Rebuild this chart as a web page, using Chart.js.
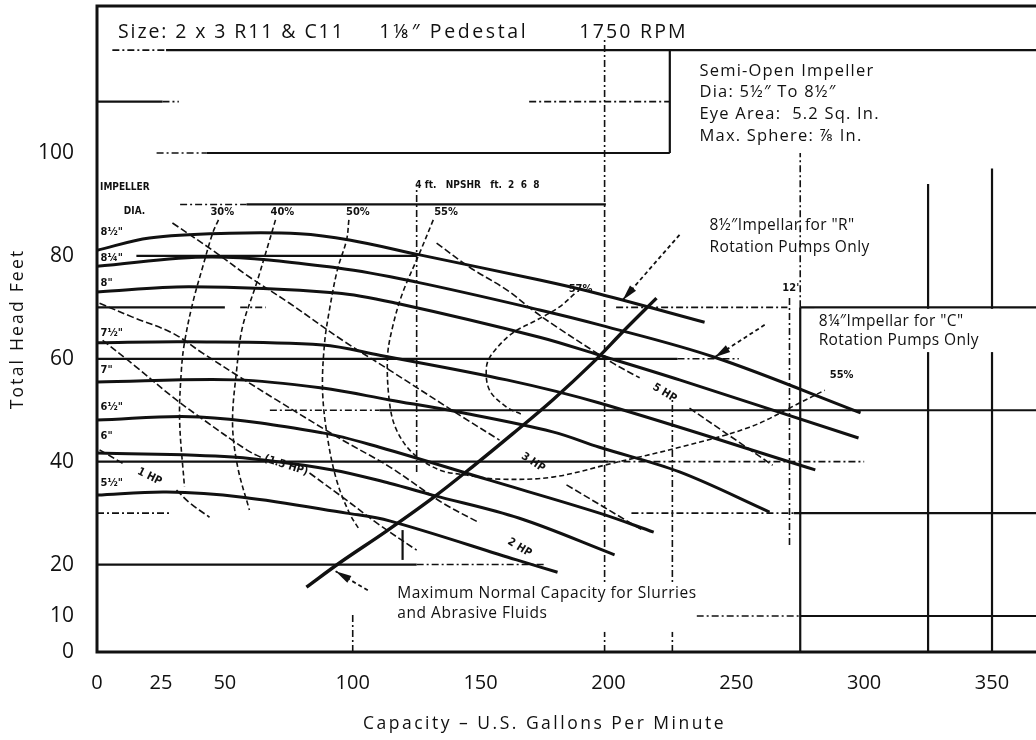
<!DOCTYPE html>
<html>
<head>
<meta charset="utf-8">
<script src="https://cdn.jsdelivr.net/npm/chart.js@4"></script>
<style>
  html, body { margin: 0; padding: 0; background: #fff; }
  #wrap { width: 1036px; height: 740px; }
</style>
</head>
<body>
<div id="wrap"><canvas id="pump" width="1036" height="740"></canvas></div>
<script>
// values: [US GPM, feet of head]
const xTickValues = [0, 25, 50, 100, 150, 200, 250, 300, 350];
const yTickValues = [3, 10, 20, 40, 60, 80, 100];
const yTickLabels = ['0', '10', '20', '40', '60', '80', '100'];

// impeller diameter curves
const diaNames = ['8½"', '8¼"', '8"', '7½"', '7"', '6½"', '6"', '5½"'];
const diaTagHead = [84.6, 79.6, 74.7, 65, 57.8, 50.6, 45, 35.8];
const head8_50 = [[0,81.1],[20.5,83.5],[51.8,84.4],[79.2,84.3],[98.7,83.1],[126.2,80.2],[173.1,75.3],[196.5,72.6],[237.6,67.1]];
const head8_25 = [[0,78],[45.2,79.8],[94.8,77.6],[125,74.9],[173.1,69.5],[196.5,66.6],[241.5,60.3],[298.6,49.5]];
const head8_00 = [[0,73],[36.2,74],[93.7,72.8],[117.1,70.8],[173.1,64.2],[196.5,60.7],[227.8,55.9],[297.8,44.6]];
const head7_50 = [[0,63.1],[35,63.3],[88.2,62.7],[110.5,60.7],[160.2,55.9],[196.5,51.4],[280.9,38.4]];
const head7_00 = [[0,55.5],[54.6,55.9],[88.2,54.3],[114.4,52],[141.8,49.6],[178.2,45.8],[196.5,42.8],[227.8,38],[263,30.2]];
const head6_50 = [[0,48.1],[40.1,48.7],[88.2,45.6],[110.5,42.8],[153.5,36.4],[196.5,30],[217.7,26.3]];
const head6_00 = [[0,41.7],[53,40.9],[92.1,38.4],[114.4,35.8],[131.2,33.5],[165.2,29],[202.4,21.9]];
const head5_50 = [[0,33.5],[27.2,34.1],[56.9,33.1],[97.6,30],[114.4,28.5],[164.1,20.9],[180.1,18.5]];

// efficiency contours
const effNames = ['30%', '40%', '50%', '55%', '57%', '55%'];
const effTagAt = [[49,88.6],[72.5,88.6],[102,88.6],[136.5,88.6],[189.1,73.6],[291.2,56.8]];
const eff30 = [[47.5,87],[45.2,84.4],[41.3,77.8],[37.4,70.8],[34.2,63.1],[33,57.8],[32.3,48.1],[34.2,35.1]];
const eff40 = [[69.8,87],[67.5,83.1],[62.4,74.7],[56.9,66.2],[54.6,57.8],[53,47.5],[55,39],[59.6,30.6]];
const eff50 = [[98.5,87],[97.6,83.1],[94,77.3],[90.9,69.5],[89,63.1],[88.2,53.9],[90.1,44.8],[93.7,36.4],[98.7,30],[102.7,26.7]];
const eff55 = [[131.5,87],[126.2,80.6],[119.5,72.8],[115.6,66.2],[113.6,60.3],[114.4,51.4],[117.1,46.2],[123.4,41.7],[133.9,38.4],[144.5,37.4],[157.4,36.6],[178.2,37],[201.6,39.7],[227.8,42.8],[255.2,46.7],[274.7,51.4],[284.6,53.9]];
const eff57 = [[186.7,72.6],[180.9,70.1],[171.9,67.5],[162.5,65],[154.7,61.1],[152.3,58.4],[153.5,53.9],[160.2,50.6],[166,49.2]];

// brake horsepower lines (null = gap where the tag sits)
const hpNames = ['1 HP', '(1.5 HP)', '2 HP', '3 HP', '5 HP'];
const hp1_0 = [[1,42.3],[10,39.7],null,[31.1,34.5],[36.2,32],[44,29.2]];
const hp1_5 = [[2.2,63.6],[15.4,58.4],[29.5,52.6],[40.1,48.7],[58.5,42.3],[64.7,40.7],null,[83.1,37.8],[96,33.1],[110.5,27.7],[125,22.8]];
const hp2_0 = [[1,70.8],[13.9,68.1],[29.5,65],[41.3,61.1],[55.7,56.5],[70.2,52],[96,44.2],[114.4,39],[135.1,32],[149.6,28.1],null,[180.9,18.5]];
const hp3_0 = [[29.5,86.4],[45.2,81.1],[59.6,75.9],[75.3,70.8],[96,63.6],[114.4,57.8],[142.9,48.7],[157.4,44.2],null,[183.6,35.5],[213.3,26.7]];
const hp5_0 = [[132.8,82.5],[145.7,77.8],[160.2,73.4],[170.3,69.5],[179.7,66.2],[201.6,59.2],[212.2,56.3],null,[231.7,50.4],[264.2,39.3]];

// maximum normal capacity for slurries
const maxCapacity = [[81.9,15.6],[94.8,20.3],[113.2,26.5],[131.2,32.9],[146.8,39],[162.5,45.4],[178.2,52],[193.8,59.2],[206.3,65.6],[218.8,71.8]];

// pointer arrows [from, tip]
const arrowR = [[227.8,84.1],[205.5,71.4]];
const arrowC = [[261.1,66.6],[241.5,60.3]];
const arrowMax = [[105.9,15],[93.3,18.7]];

// sheet grid lines: [level, from, to]
const headGridSolid = [[120,27,367.2],[110,0,25.6],[100,42.8,224],[90,58.5,199],[80,15.4,125],[70,0,50],[70,275,367.2],[60,0,227],[50,110.5,367.2],[40,0,200],[30,272.5,367.2],[20,0,125],[10,275,367.2]];
const headGridDashed = [[120,6,27],[110,25.6,32],[110,169,224],[100,23.3,42.8],[90,32.5,58.5],[70,56,66],[70,203,270],[60,227,251],[50,67.6,110.5],[40,200,300],[30,0,28.4],[30,209,272.5],[20,125,175],[10,234.5,275]];
const flowGridSolid = [[275,3,70],[325,3,94],[350,3,97],[224,100,120],[119.5,20.9,26.7]];
const flowGridDashed = [[125,38,93.5],[198.5,3,122],[270.8,23.8,72.4],[275,70,100],[225,3,52],[100,3,10.8]];

const FONT = '"Open Sans", "DejaVu Sans", sans-serif';
const SCAN = '"DejaVu Sans Condensed", "DejaVu Sans", sans-serif';
const INK = '#111';

const toPts = a => a.map((p, i) => p ? { x: p[0], y: p[1] } : { x: a[i - 1][0] + 0.01, y: null });
const line = (pts, w, dash) => ({
  data: toPts(pts), borderColor: INK, borderWidth: w, borderDash: dash,
  pointRadius: 0, tension: 0.35, fill: false, spanGaps: false
});

const heads = [head8_50, head8_25, head8_00, head7_50, head7_00, head6_50, head6_00, head5_50];
const effs = [eff30, eff40, eff50, eff55, eff57];
const hps = [hp1_0, hp1_5, hp2_0, hp3_0, hp5_0];

const datasets = [
  ...effs.map(e => line(e, 1.6, [5, 3])),
  ...hps.map(h => line(h, 1.6, [7, 3])),
  ...heads.map(h => line(h, 3, [])),
  line(maxCapacity, 3.4, [])
];

function text(ctx, str, px, py, font, opts = {}) {
  ctx.save();
  ctx.font = font;
  ctx.fillStyle = INK;
  ctx.textAlign = opts.align || 'left';
  ctx.textBaseline = opts.base || 'alphabetic';
  if ('letterSpacing' in ctx) ctx.letterSpacing = (opts.ls || 0) + 'px';
  ctx.translate(px, py);
  if (opts.rot) ctx.rotate(opts.rot);
  ctx.fillText(str, 0, 0);
  ctx.restore();
}

const sheet = {
  id: 'sheet',
  beforeDatasetsDraw(chart) {
    const { ctx, scales: { x, y } } = chart;
    ctx.save();
    ctx.strokeStyle = INK;
    const h = (ft, a, b) => { ctx.beginPath(); ctx.moveTo(x.getPixelForValue(a), y.getPixelForValue(ft)); ctx.lineTo(x.getPixelForValue(b), y.getPixelForValue(ft)); ctx.stroke(); };
    const v = (g, a, b) => { ctx.beginPath(); ctx.moveTo(x.getPixelForValue(g), y.getPixelForValue(a)); ctx.lineTo(x.getPixelForValue(g), y.getPixelForValue(b)); ctx.stroke(); };
    ctx.lineWidth = 2.2;
    ctx.setLineDash([]);
    headGridSolid.forEach(r => h(...r));
    flowGridSolid.forEach(r => v(...r));
    ctx.lineWidth = 1.6;
    ctx.setLineDash([7, 3, 2, 3]);
    headGridDashed.forEach(r => h(...r));
    flowGridDashed.forEach(r => v(...r));
    ctx.restore();
  },
  afterDatasetsDraw(chart) {
    const { ctx, chartArea: ca, scales: { x, y } } = chart;
    const px = g => x.getPixelForValue(g), py = f => y.getPixelForValue(f);

    // white label boxes knocked out of the grid
    ctx.save();
    ctx.fillStyle = '#fff';
    ctx.fillRect(px(280.5), py(69.7), px(352.9) - px(280.5), py(61.3) - py(69.7));
    ctx.fillRect(px(116.3), py(16.4), px(234.4) - px(116.3), py(6.9) - py(16.4));
    ctx.restore();

    // frame
    ctx.save();
    ctx.strokeStyle = INK;
    ctx.lineWidth = 3;
    ctx.beginPath();
    ctx.moveTo(ca.right, ca.top); ctx.lineTo(ca.left, ca.top);
    ctx.lineTo(ca.left, ca.bottom); ctx.lineTo(ca.right, ca.bottom);
    ctx.stroke();
    ctx.restore();

    // arrows
    [arrowR, arrowC, arrowMax].forEach(([from, tip]) => {
      const x0 = px(from[0]), y0 = py(from[1]), x1 = px(tip[0]), y1 = py(tip[1]);
      const ang = Math.atan2(y1 - y0, x1 - x0);
      ctx.save();
      ctx.strokeStyle = INK;
      ctx.lineWidth = 1.8;
      ctx.setLineDash([4, 3]);
      ctx.beginPath(); ctx.moveTo(x0, y0); ctx.lineTo(x1, y1); ctx.stroke();
      ctx.setLineDash([]);
      ctx.fillStyle = INK;
      ctx.translate(x1, y1); ctx.rotate(ang);
      ctx.beginPath(); ctx.moveTo(0, 0); ctx.lineTo(-16, -4); ctx.lineTo(-16, 4); ctx.closePath(); ctx.fill();
      ctx.restore();
    });

    // scanned small tags
    const tag = 'bold 11px ' + SCAN;
    diaNames.forEach((n, i) => text(ctx, n, px(1.4), py(diaTagHead[i]), tag, { base: 'middle' }));
    text(ctx, 'IMPELLER', px(1.2), py(93.4), 'bold 10px ' + SCAN, { base: 'middle' });
    text(ctx, 'DIA.', px(10.5), py(88.7), 'bold 10px ' + SCAN, { base: 'middle' });
    effNames.forEach((n, i) => text(ctx, n, px(effTagAt[i][0]), py(effTagAt[i][1]), tag, { align: 'center', base: 'middle' }));
    text(ctx, "4 ft.   NPSHR   ft.  2  6  8", px(124.5), py(93.8), 'bold 10px ' + SCAN, { base: 'middle' });
    text(ctx, "12'", px(271.3), py(73.8), tag, { align: 'center', base: 'middle' });
    hps.forEach((pts, i) => {
      const k = pts.indexOf(null);
      const a = pts[k - 1], b = pts[k + 1];
      const x0 = px(a[0]), y0 = py(a[1]), x1 = px(b[0]), y1 = py(b[1]);
      text(ctx, hpNames[i], (x0 + x1) / 2, (y0 + y1) / 2, tag, { align: 'center', base: 'middle', rot: Math.atan2(y1 - y0, x1 - x0) });
    });

    // printed notes
    const band = py(122.4);
    const big = '19.5px ' + FONT;
    text(ctx, 'Size: 2 x 3 R11 & C11', px(8.2), band, big, { ls: 1.9 });
    text(ctx, '1⅛″ Pedestal', px(110.4), band, big, { ls: 2.6 });
    text(ctx, '1750 RPM', px(188.6), band, big, { ls: 2.2 });
    const info = ['Semi-Open Impeller', 'Dia: 5½″ To 8½″', 'Eye Area:  5.2 Sq. In.', 'Max. Sphere: ⅞ In.'];
    [115, 110.9, 106.6, 102.4].forEach((f, i) => text(ctx, info[i], px(235.6), py(f), '16.5px ' + FONT, { ls: 1.2 }));
    const note = '15.5px ' + FONT;
    text(ctx, '8½″Impellar for "R"', px(239.5), py(85), note, { ls: 0.4 });
    text(ctx, 'Rotation Pumps Only', px(239.5), py(80.8), note, { ls: 0.4 });
    text(ctx, '8¼″Impellar for "C"', px(282.2), py(66.3), note, { ls: 0.4 });
    text(ctx, 'Rotation Pumps Only', px(282.2), py(62.6), note, { ls: 0.4 });
    text(ctx, 'Maximum Normal Capacity for Slurries', px(117.4), py(13.5), note, { ls: 0.55 });
    text(ctx, 'and Abrasive Fluids', px(117.4), py(9.6), note, { ls: 0.55 });
  },
  afterDraw(chart) {
    const { ctx, chartArea: ca, scales: { x } } = chart;
    const title = '17.5px ' + FONT;
    text(ctx, 'Total Head Feet', 18, (ca.top + ca.bottom) / 2, title, { align: 'center', base: 'middle', rot: -Math.PI / 2, ls: 2.2 });
    text(ctx, 'Capacity – U.S. Gallons Per Minute', x.getPixelForValue(175), 724, title, { align: 'center', base: 'middle', ls: 2.5 });
  }
};

new Chart(document.getElementById('pump'), {
  type: 'line',
  data: { datasets },
  options: {
    responsive: false,
    animation: false,
    devicePixelRatio: 1,
    layout: { padding: { top: 6, right: 0, left: 0, bottom: 0 } },
    plugins: { legend: { display: false }, tooltip: { enabled: false } },
    scales: {
      x: {
        type: 'linear', min: 0, max: 367.2,
        grid: { display: false }, border: { display: false },
        afterBuildTicks: s => { s.ticks = xTickValues.map(v => ({ value: v })); },
        afterFit: s => { s.height = 88; s.paddingLeft = 0; s.paddingRight = 0; },
        ticks: { autoSkip: false, maxRotation: 0, padding: 11, color: INK, font: { family: FONT, size: 20 } }
      },
      y: {
        type: 'linear', min: 3, max: 128.58,
        grid: { display: false }, border: { display: false },
        afterBuildTicks: s => { s.ticks = yTickValues.map(v => ({ value: v })); },
        afterFit: s => { s.width = 97; s.paddingTop = 0; s.paddingBottom = 0; },
        ticks: { padding: 15, color: INK, font: { family: FONT, size: 21 },
                 callback: (v, i) => yTickLabels[i] }
      }
    }
  },
  plugins: [sheet]
});
</script>
</body>
</html>
